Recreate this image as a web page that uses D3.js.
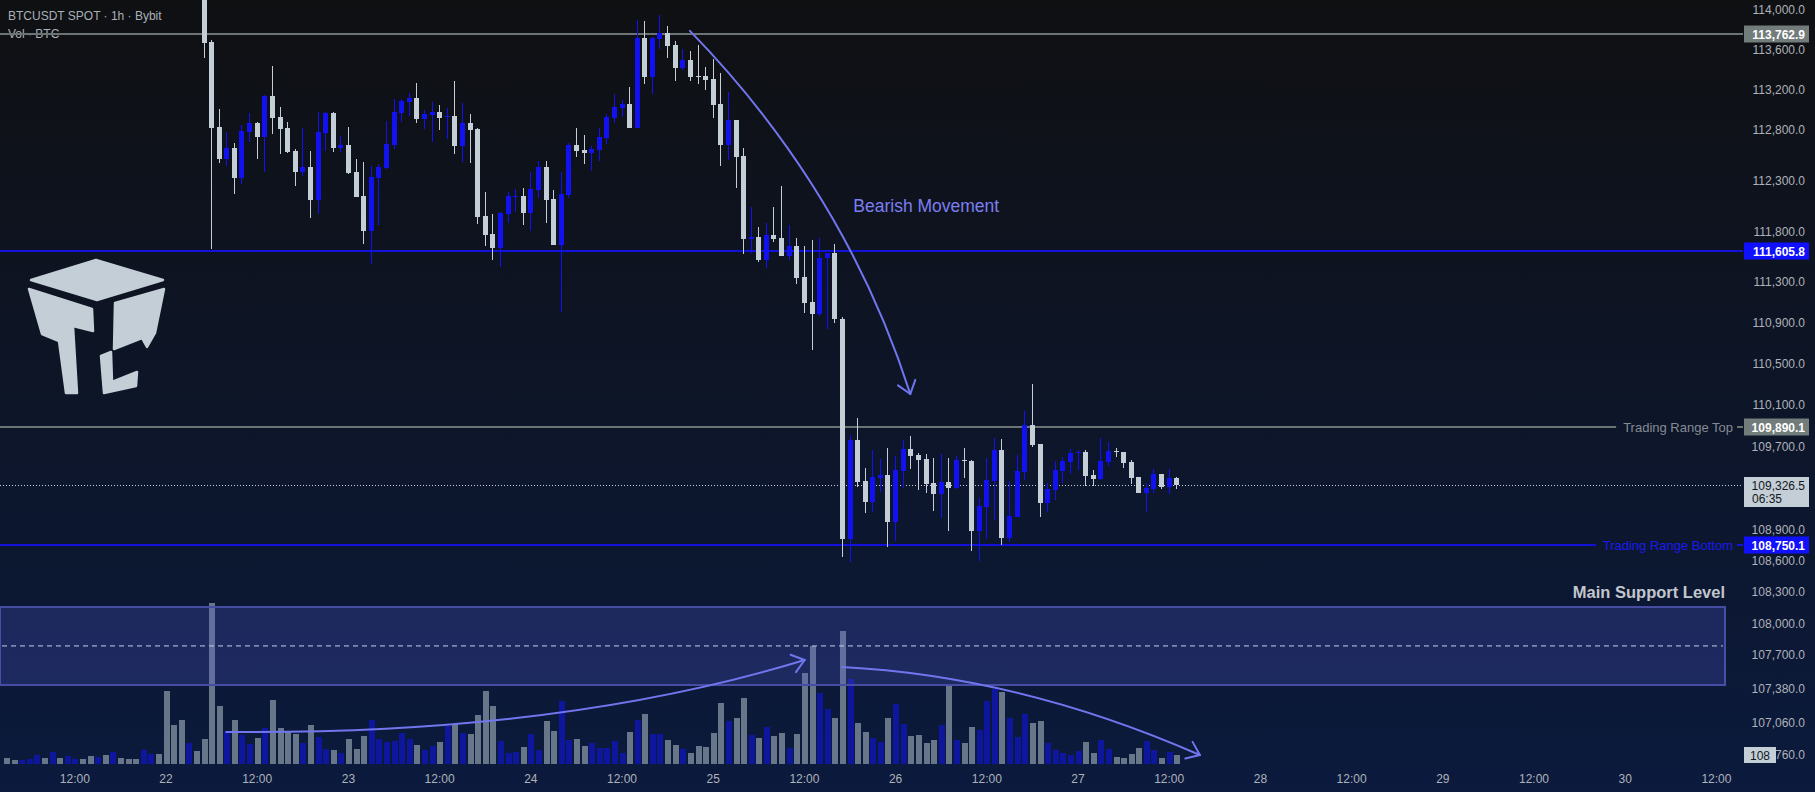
<!DOCTYPE html>
<html>

<head>
  <title>BTCUSDT SPOT 1h</title>
  <meta charset="UTF-8">
  <script src="https://d3js.org/d3.v7.min.js"></script>
  <style type="text/css">
    html, body { margin: 0; padding: 0; background: #0f1012; overflow: hidden; }
    svg { display: block; font-family: "Liberation Sans", Arial, sans-serif; }
  </style>
</head>

<body>
  <script type="text/javascript">
    // ---- data ----
    var firstCandleHour = 5;   // 22 Sep 05:00 UTC
    var firstVolHour = -21;    // 21 Sep 03:00 UTC

    // [open, high, low, close], hourly
    var candles = [
      [114500,114600,113524,113674],[113684,113701,111623,112824],[112831,113011,112473,112513],[112513,112780,112447,112622],
      [112622,112671,112166,112325],[112325,112851,112265,112790],[112780,112971,112681,112871],[112871,112880,112513,112731],
      [112731,113151,112384,113141],[113141,113441,112760,112921],[112931,113031,112562,112811],[112821,112881,112572,112582],
      [112592,112612,112246,112384],[112384,112821,112345,112434],[112434,112592,111929,112107],[112107,112981,111968,112780],
      [112770,112981,112592,112971],[112971,112981,112582,112622],[112622,112741,112582,112652],[112652,112831,112364,112374],
      [112384,112513,112137,112137],[112147,112483,111672,111800],[111800,112444,111476,112335],[112325,112464,111860,112434],
      [112424,112891,112414,112662],[112652,113111,112612,112981],[112971,113111,112881,113091],[113081,113171,112941,113121],
      [113121,113271,112871,112911],[112911,113001,112811,112961],[112951,113081,112681,112981],[112981,113051,112801,112921],
      [112931,113021,112711,112941],[112941,113291,112562,112642],[112642,113071,112483,112871],[112871,112961,112473,112801],
      [112811,112821,111869,111939],[111949,112186,111652,111760],[111770,111968,111515,111633],[111633,111988,111446,111978],
      [111968,112186,111879,112147],[112137,112216,111988,112147],[112147,112226,111860,111978],[111978,112384,111800,112216],
      [112206,112493,112127,112434],[112434,112493,111879,112107],[112117,112206,111662,111662],[111662,112384,111004,112166],
      [112157,112671,112127,112652],[112652,112821,112533,112592],[112602,112751,112463,112572],[112572,112642,112394,112612],
      [112602,112821,112493,112731],[112721,112961,112662,112931],[112921,113161,112871,113031],[113021,113101,112931,113061],
      [113061,113231,112821,112821],[112821,113901,112821,113721],[113721,113891,113261,113331],[113331,113731,113161,113721],
      [113711,113951,113611,113771],[113771,113841,113521,113641],[113651,113691,113291,113421],[113421,113611,113401,113501],
      [113501,113591,113291,113331],[113341,113651,113261,113331],[113341,113431,113201,113301],[113311,113511,112921,113051],
      [113061,113371,112444,112652],[112652,113181,112503,112901],[112901,112901,112226,112533],[112543,112622,111574,111721],
      [111721,112038,111584,111741],[111741,111840,111495,111515],[111515,111879,111436,111760],[111760,112038,111692,111721],
      [111731,112246,111554,111554],[111554,111860,111515,111652],[111652,111731,111279,111338],[111348,111652,110994,111093],
      [111102,111711,110636,110985],[110985,111731,110965,111534],[111534,111584,110841,111584],[111584,111672,110896,110935],
      [110935,110955,108632,108806],[108806,109808,108590,109759],[109759,109974,109305,109353],[109362,109488,109054,109160],
      [109160,109662,109063,109401],[109391,109575,109256,109420],[109420,109681,108735,108967],[108967,109604,108793,109469],
      [109459,109759,109295,109671],[109671,109798,109478,109604],[109613,109633,109276,109565],[109575,109623,109247,109334],
      [109343,109584,109073,109237],[109237,109623,109005,109353],[109353,109584,108889,109295],[109295,109604,109285,109565],
      [109565,109681,109391,109555],[109555,109565,108697,108880],[108880,109198,108600,109121],[109111,109584,108803,109372],
      [109362,109779,108986,109662],[109662,109769,108754,108822],[108822,109362,108783,109025],[109015,109613,109015,109459],
      [109449,110042,109372,109905],[109905,110305,109690,109710],[109720,109720,109015,109150],[109150,109343,109063,109285],
      [109276,109555,109179,109469],[109459,109594,109343,109555],[109546,109671,109430,109633],[109633,109662,109469,109642],
      [109642,109662,109314,109411],[109420,109469,109314,109382],[109382,109779,109372,109555],[109546,109739,109507,109652],
      [109652,109681,109594,109642],[109642,109642,109488,109536],[109546,109565,109333,109391],[109401,109401,109246,109246],
      [109246,109343,109063,109295],[109285,109478,109246,109430],[109430,109430,109285,109305],[109305,109478,109237,109391],
      [109391,109401,109285,109326.5]
    ];

    // hourly volume in BTC, from 21 Sep 03:00
    var volumes = [
      73,48,48,61,109,73,145,73,97,61,61,97,85,109,145,73,61,61,170,121,121,
      873,473,521,255,158,
      303,1932,691,400,521,351,242,315,436,764,436,400,364,255,473,327,182,170,133,303,182,339,521,303,267,279,
      376,303,230,170,218,267,461,485,376,364,582,873,691,279,133,145,206,364,170,509,400,751,291,303,218,255,
      194,194,279,133,388,521,594,364,364,291,230,182,133,218,206,376,727,509,545,788,351,315,448,339,376,194,
      364,1091,1418,848,654,545,1588,1018,497,388,315,267,545,715,485,339,351,255,291,473,945,291,255,448,412,
      751,897,861,545,327,594,497,509,255,170,133,109,158,267,133,291,182,85,73,121,194,279,170,73,145,108
    ];
    // direction of the bars before the first visible candle (u = up, d = down)
    var earlyVolDir = 'dduuududuuddududdduuddddud';

    var priceTicks = [114000, 113600, 113200, 112800, 112300, 111800, 111300, 110900, 110500, 110100,
      109700, 108900, 108600, 108300, 108000, 107700, 107380, 107060, 106760];

    var levelPrices = [113762.9, 111605.8, 109890.1, 108750.1];
    var levelNames = ['', '', 'Trading Range Top', 'Trading Range Bottom'];

    var supportZone = [107416, 108157];
    var supportMid = 107787;
    var countdown = '06:35';

    // annotation curves: [hour, value] start, control, end
    var priceArrow = [[69, 113791], [89.4, 112206], [98, 110207]];
    var volArrows = [
      [[8, 384], [51.9, 347], [84.1, 1246]],
      [[89, 1162], [112.4, 1054], [136.1, 108]]
    ];

    // ---- chart ----
    var W = 1815, H = 792;
    var axisX = 1743;
    var blue = '#1111f2', white = '#c3ced6';

    function hourDate(h) { return new Date(Date.UTC(2025, 8, 22, 0) + h * 3600000); }

    var svg = d3.select('body').append('svg').attr('width', W).attr('height', H);

    var defs = svg.append('defs');
    var grad = defs.append('linearGradient').attr('id', 'bg')
      .attr('x1', 0).attr('y1', 0).attr('x2', 0).attr('y2', 1);
    grad.append('stop').attr('offset', '0%').attr('stop-color', '#0f1012');
    grad.append('stop').attr('offset', '100%').attr('stop-color', '#0b1a3d');
    svg.append('rect').attr('width', W).attr('height', H).attr('fill', 'url(#bg)');

    var x = d3.scaleUtc().domain([hourDate(0), hourDate(120)]).range([165.5, 1077.5]);
    var y = d3.scaleLog().domain([levelPrices[3], levelPrices[0]]).range([545, 33.7]);
    var yVol = d3.scaleLinear().domain([0, 2000]).range([764, 597]);

    function hx(h) { return x(hourDate(h)); }

    // header
    svg.append('text').attr('x', 8).attr('y', 20).attr('fill', '#aab0b8').style('font-size', '12px')
      .text('BTCUSDT SPOT · 1h · Bybit');
    svg.append('text').attr('x', 8).attr('y', 38).attr('fill', '#aab0b8').style('font-size', '12px')
      .text('Vol · BTC');

    // logo
    var logo = svg.append('g').attr('fill', white).attr('stroke', white)
      .attr('stroke-width', 2.5).attr('stroke-linejoin', 'round');
    logo.append('path').attr('d', 'M31,280 L96,260 L163,280 L97,300 Z');
    logo.append('path').attr('d', 'M29,289 L92,309 L93,331 L73,326 L77,393 L66,393 L59,341 L42,334 Z');
    logo.append('path').attr('d', 'M115,303 L164,289 L155,333 L147,347 L142,338 L114,349 Z');
    logo.append('path').attr('d', 'M101,356 L111,352 L112,382 L137,372 L136,386 L104,393 Z');

    // volume bars
    var volData = volumes.map(function (v, i) {
      var h = firstVolHour + i;
      var ci = h - firstCandleHour;
      var up = ci >= 0 ? candles[ci][3] >= candles[ci][0] : earlyVolDir[i] === 'u';
      return { h: h, v: v, up: up };
    });
    svg.append('g').selectAll('rect').data(volData).enter().append('rect')
      .attr('x', function (d) { return Math.round(hx(d.h)) - 2.5; })
      .attr('width', 6)
      .attr('y', function (d) { return yVol(d.v); })
      .attr('height', function (d) { return yVol(0) - yVol(d.v); })
      .attr('fill', function (d) { return d.up ? '#0e169e' : '#687689'; })
      .attr('shape-rendering', 'crispEdges');

    // support zone
    svg.append('rect').attr('x', 0).attr('width', 1725)
      .attr('y', y(supportZone[1])).attr('height', y(supportZone[0]) - y(supportZone[1]))
      .attr('fill', 'rgba(82,92,212,0.26)').attr('stroke', '#484ea6').attr('stroke-width', 2);
    svg.append('line').attr('x1', 2).attr('x2', 1723).attr('y1', y(supportMid)).attr('y2', y(supportMid))
      .attr('stroke', '#c8cce6').attr('stroke-width', 1).attr('stroke-dasharray', '5,4');
    svg.append('text').attr('x', 1725).attr('y', y(supportZone[1]) - 9)
      .attr('text-anchor', 'end').attr('fill', '#c2c6ce')
      .style('font-size', '16.5px').style('font-weight', 'bold').text('Main Support Level');

    // horizontal levels
    var levelColor = ['#6b7473', '#1212dc', '#6b7473', '#1212dc'];
    var levelText = ['', '', '#858b93', '#1a1aee'];
    levelPrices.forEach(function (p, i) {
      var yy = Math.round(y(p));
      var lineEnd = axisX;
      if (levelNames[i]) {
        var t = svg.append('text').attr('x', 1733).attr('y', yy + 4.5).attr('text-anchor', 'end')
          .attr('fill', levelText[i]).style('font-size', '13px').text(levelNames[i]);
        lineEnd = 1733 - t.node().getComputedTextLength() - 7;
        svg.append('line').attr('x1', 1737).attr('x2', axisX).attr('y1', yy).attr('y2', yy)
          .attr('stroke', levelColor[i]).attr('stroke-width', 2);
      }
      svg.append('line').attr('x1', 0).attr('x2', lineEnd).attr('y1', yy).attr('y2', yy)
        .attr('stroke', levelColor[i]).attr('stroke-width', 2);
    });

    // last price dotted line
    var last = candles[candles.length - 1][3];
    svg.append('line').attr('x1', 0).attr('x2', axisX).attr('y1', Math.round(y(last)) + 0.5).attr('y2', Math.round(y(last)) + 0.5)
      .attr('stroke', white).attr('stroke-width', 1).attr('stroke-dasharray', '1,2');

    // candles
    var candleData = candles.map(function (c, i) {
      return { h: firstCandleHour + i, o: c[0], hi: c[1], lo: c[2], c: c[3] };
    });
    var cg = svg.append('g').attr('shape-rendering', 'crispEdges');
    cg.selectAll('.wick').data(candleData).enter().append('rect')
      .attr('x', function (d) { return Math.round(hx(d.h)); })
      .attr('width', 1)
      .attr('y', function (d) { return y(d.hi); })
      .attr('height', function (d) { return y(d.lo) - y(d.hi); })
      .attr('fill', function (d) { return d.c >= d.o ? blue : white; });
    cg.selectAll('.body').data(candleData).enter().append('rect')
      .attr('x', function (d) { return Math.round(hx(d.h)) - 2; })
      .attr('width', 5)
      .attr('y', function (d) { return y(Math.max(d.o, d.c)); })
      .attr('height', function (d) { return Math.max(1, Math.abs(y(d.o) - y(d.c))); })
      .attr('fill', function (d) { return d.c >= d.o ? blue : white; });

    // annotation arrows
    function drawArrow(pts, ys) {
      var p = pts.map(function (q) { return [hx(q[0]), ys(q[1])]; });
      svg.append('path')
        .attr('d', 'M' + p[0][0] + ',' + p[0][1] + ' Q' + p[1][0] + ',' + p[1][1] + ' ' + p[2][0] + ',' + p[2][1])
        .attr('fill', 'none').attr('stroke', '#7176ee').attr('stroke-width', 2).attr('stroke-linecap', 'round');
      var ang = Math.atan2(p[2][1] - p[1][1], p[2][0] - p[1][0]);
      [-0.65, 0.65].forEach(function (da) {
        var a = ang + Math.PI + da;
        svg.append('line').attr('x1', p[2][0]).attr('y1', p[2][1])
          .attr('x2', p[2][0] + 15 * Math.cos(a)).attr('y2', p[2][1] + 15 * Math.sin(a))
          .attr('stroke', '#7176ee').attr('stroke-width', 2).attr('stroke-linecap', 'round');
      });
    }
    drawArrow(priceArrow, y);
    volArrows.forEach(function (a) { drawArrow(a, yVol); });

    svg.append('text').attr('x', hx(90.5)).attr('y', y(111990))
      .attr('fill', '#7b7ff2').style('font-size', '17.5px').text('Bearish Movement');

    // price axis
    var yAxis = svg.append('g').attr('transform', 'translate(' + axisX + ',0)')
      .call(d3.axisRight(y).tickValues(priceTicks).tickSize(0).tickFormat(d3.format(',.1f')));
    yAxis.select('.domain').remove();
    yAxis.selectAll('text').attr('x', 62).attr('text-anchor', 'end')
      .attr('fill', '#aeb2ba').style('font-size', '12px').style('font-family', '"Liberation Sans", Arial, sans-serif');

    // time axis
    var xTicks = d3.utcHour.every(12).range(hourDate(-12), hourDate(205));
    var xAxis = svg.append('g').attr('transform', 'translate(0,770)')
      .call(d3.axisBottom(x).tickValues(xTicks).tickSize(0).tickFormat(function (d) {
        return d.getUTCHours() === 0 ? String(d.getUTCDate()) : '12:00';
      }));
    xAxis.select('.domain').remove();
    xAxis.selectAll('text').attr('y', 4).attr('dy', '0.71em')
      .attr('fill', '#aeb2ba').style('font-size', '12px').style('font-family', '"Liberation Sans", Arial, sans-serif');

    // price labels on the axis
    var boxColor = ['#727c7b', '#1010ff', '#727c7b', '#1010ff'];
    levelPrices.forEach(function (p, i) {
      var yy = Math.round(y(p));
      svg.append('rect').attr('x', 1744).attr('y', yy - 8.5).attr('width', 65).attr('height', 17)
        .attr('fill', boxColor[i]);
      svg.append('text').attr('x', 1805).attr('y', yy + 4.5).attr('text-anchor', 'end')
        .attr('fill', '#ffffff').style('font-size', '12px').style('font-weight', 'bold')
        .text(d3.format(',.1f')(p));
    });

    var ly = Math.round(y(last));
    svg.append('rect').attr('x', 1744).attr('y', ly - 8).attr('width', 65).attr('height', 30).attr('fill', white);
    svg.append('text').attr('x', 1805).attr('y', ly + 4.5).attr('text-anchor', 'end')
      .attr('fill', '#131722').style('font-size', '12px').text(d3.format(',.1f')(last));
    svg.append('text').attr('x', 1752).attr('y', ly + 18).attr('fill', '#131722')
      .style('font-size', '12px').text(countdown);

    // last volume label (covers part of the lowest price tick, as in the original)
    var lastVol = volumes[volumes.length - 1];
    var vy = Math.round(yVol(lastVol));
    svg.append('rect').attr('x', 1744).attr('y', vy - 8).attr('width', 32).attr('height', 16).attr('fill', white);
    svg.append('text').attr('x', 1760).attr('y', vy + 4.5).attr('text-anchor', 'middle')
      .attr('fill', '#131722').style('font-size', '12px').text(lastVol);
  </script>
</body>

</html>
